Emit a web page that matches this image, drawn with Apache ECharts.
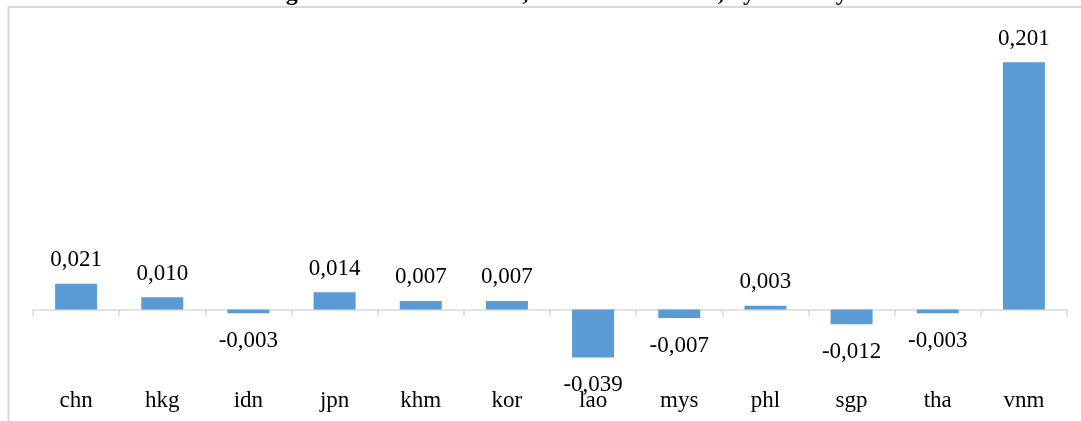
<!DOCTYPE html>
<html>
<head>
<meta charset="utf-8">
<style>
  html, body { margin: 0; padding: 0; background: #fff; }
  #chart { width: 1081px; height: 421px; }
</style>
<script src="https://cdn.jsdelivr.net/npm/echarts@6/dist/echarts.min.js"></script>
</head>
<body>
<div id="chart"></div>
<script>
// Country codes along the category axis
const countries = ['chn', 'hkg', 'idn', 'jpn', 'khm', 'kor', 'lao', 'mys', 'phl', 'sgp', 'tha', 'vnm'];
// Coefficient per country
const coefficients = [0.021, 0.010, -0.003, 0.014, 0.007, 0.007, -0.039, -0.007, 0.003, -0.012, -0.003, 0.201];
const titleText = 'Figure 4.4: RTS and SRS, Some Coefficients, by Country';

const serif = '"Liberation Serif", "Times New Roman", serif';
const barColor = '#5B9BD5';
const gridGray = '#d9d9d9';

// Decimal comma formatting, e.g. 0,021 / -0,039
const fmt = v => v.toFixed(3).replace('.', ',');

const chart = echarts.init(document.getElementById('chart'), null, { renderer: 'canvas' });

chart.setOption({
  animation: false,
  backgroundColor: '#fff',
  graphic: [
    {
      type: 'rect',
      shape: { x: 8.5, y: 7, width: 1200, height: 600 },
      style: { fill: 'none', stroke: gridGray, lineWidth: 2 },
      silent: true
    },
    {
      type: 'text',
      x: 556,
      y: 6,
      style: {
        text: titleText,
        font: 'bold 24px ' + serif,
        fill: '#000',
        align: 'center',
        verticalAlign: 'bottom'
      },
      silent: true
    }
  ],
  grid: { left: 33, right: 14, top: 2, bottom: 50, containLabel: false, outerBoundsMode: 'none' },
  xAxis: [
    {
      // zero line with ticks between categories
      type: 'category',
      data: countries,
      axisLine: { onZero: true, lineStyle: { color: gridGray, width: 1.5 } },
      axisTick: { show: true, length: 7, lineStyle: { color: gridGray, width: 1.5 } },
      axisLabel: { show: false },
      splitLine: { show: false }
    },
    {
      // category names along the bottom of the plot
      type: 'category',
      data: countries,
      position: 'bottom',
      axisLine: { show: false, onZero: false },
      axisTick: { show: false },
      axisLabel: { show: true, margin: 18, color: '#000', fontFamily: serif, fontSize: 23 },
      splitLine: { show: false }
    }
  ],
  yAxis: {
    type: 'value',
    min: -0.05,
    max: 0.25,
    show: false,
    splitLine: { show: false }
  },
  series: [{
    type: 'bar',
    xAxisIndex: 0,
    barWidth: 42,
    itemStyle: { color: barColor },
    data: coefficients.map(v => ({
      value: v,
      label: { position: v < 0 ? 'bottom' : 'top', distance: v < 0 ? 16 : 12 }
    })),
    label: {
      show: true,
      color: '#000',
      fontFamily: serif,
      fontSize: 23,
      formatter: p => fmt(p.value)
    }
  }]
});
</script>
</body>
</html>
